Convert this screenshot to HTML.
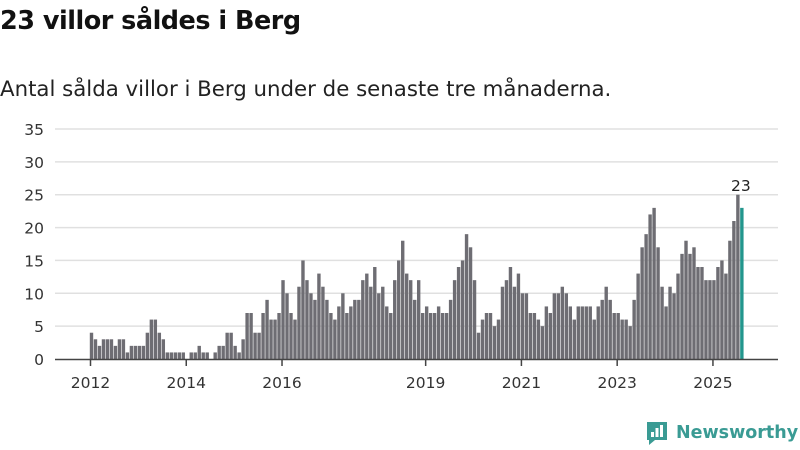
<!DOCTYPE html>
<html><head><meta charset="utf-8"><style>
body{margin:0;background:#fff;font-family:"DejaVu Sans","Liberation Sans",sans-serif;}
#wrap{position:relative;width:800px;height:450px;overflow:hidden;}
h1{position:absolute;left:0;top:6px;margin:0;font-size:25.5px;font-weight:bold;color:#111;letter-spacing:-0.5px;}
p{position:absolute;left:0;top:77px;margin:0;font-size:21.3px;color:#222;}
</style></head><body>
<div id="wrap">
<h1>23 villor såldes i Berg</h1>
<p>Antal sålda villor i Berg under de senaste tre månaderna.</p>
<svg id="chart" width="800" height="450" style="position:absolute;left:0;top:0"></svg>
<div style="position:absolute;left:645px;top:420px;display:flex;align-items:center;">
<svg width="24" height="26"><path d="M2 2h20v18H10l-6 5v-5H2z" fill="#3a9b94"/><rect x="6" y="12" width="3" height="5" fill="#fff"/><rect x="10.5" y="8" width="3" height="9" fill="#fff"/><rect x="15" y="5" width="3" height="12" fill="#fff"/></svg>
<span style="font-size:17.5px;font-weight:bold;color:#3a9b94;margin-left:7px;font-family:'DejaVu Sans',sans-serif;">Newsworthy</span>
</div>
</div>
<script>
const values=[4,3,2,3,3,3,2,3,3,1,2,2,2,2,4,6,6,4,3,1,1,1,1,1,0,1,1,2,1,1,0,1,2,2,4,4,2,1,3,7,
7,4,4,7,9,6,6,7,12,10,7,6,11,15,12,10,9,13,11,9,7,6,8,10,7,8,9,9,12,13,11,14,10,11,8,7,12,15,18,13,12,9,
12,7,8,7,7,8,7,7,9,12,14,15,19,17,12,4,6,7,7,5,6,11,12,14,11,13,10,10,7,7,6,5,8,7,10,10,11,10,8,6,
8,8,8,8,6,8,9,11,9,7,7,6,6,5,9,13,17,19,22,23,17,11,8,11,10,13,16,18,16,17,14,14,12,12,12,14,15,13,18,21,25,23];
const yTicks=[0,5,10,15,20,25,30,35];
const xTickIdx=[0,24,48,84,108,132,156];
const xTickLabels=["2012","2014","2016","2019","2021","2023","2025"];
const svg=document.getElementById('chart');
const NS='http://www.w3.org/2000/svg';
const y=v=>359-v*6.571;
const x=i=>91.5+i*3.99;
function mk(t,a){const e=document.createElementNS(NS,t);for(const k in a)e.setAttribute(k,a[k]);svg.appendChild(e);return e;}
yTicks.forEach(t=>{
 if(t>0){const g=mk('line',{x1:55,x2:778,y1:y(t),y2:y(t),stroke:'#e0e0e0','stroke-width':1.5});
 
 }
 const l=mk('text',{x:44,y:y(t)+6,'text-anchor':'end','font-size':15.5,fill:'#333','font-family':'DejaVu Sans, sans-serif'});
 l.textContent=t;
 
 
});
values.forEach((v,i)=>{
 const last=i===values.length-1;
 const r=mk('rect',{x:x(i)-1.7,y:y(v),width:3.4,height:v*6.571,fill:last?'#23968d':'#6e6d73'});
 
 
});
const li=values.length-1;
const vl=mk('text',{x:x(li)-1,y:y(values[li])-17,'text-anchor':'middle','font-size':15.5,fill:'#222','font-family':'DejaVu Sans, sans-serif'});
vl.textContent=values[li];


const ax=mk('line',{x1:55,x2:778,y1:359.5,y2:359.5,stroke:'#444','stroke-width':1.5});


xTickIdx.forEach((ix,k)=>{
 const t=mk('line',{x1:x(ix)-1,x2:x(ix)-1,y1:359,y2:366,stroke:'#444','stroke-width':1.5});
 
 
 const l=mk('text',{x:x(ix)-1,y:388,'text-anchor':'middle','font-size':15.5,fill:'#333','font-family':'DejaVu Sans, sans-serif'});
 l.textContent=xTickLabels[k];
 
 
});
</script>
</body></html>
